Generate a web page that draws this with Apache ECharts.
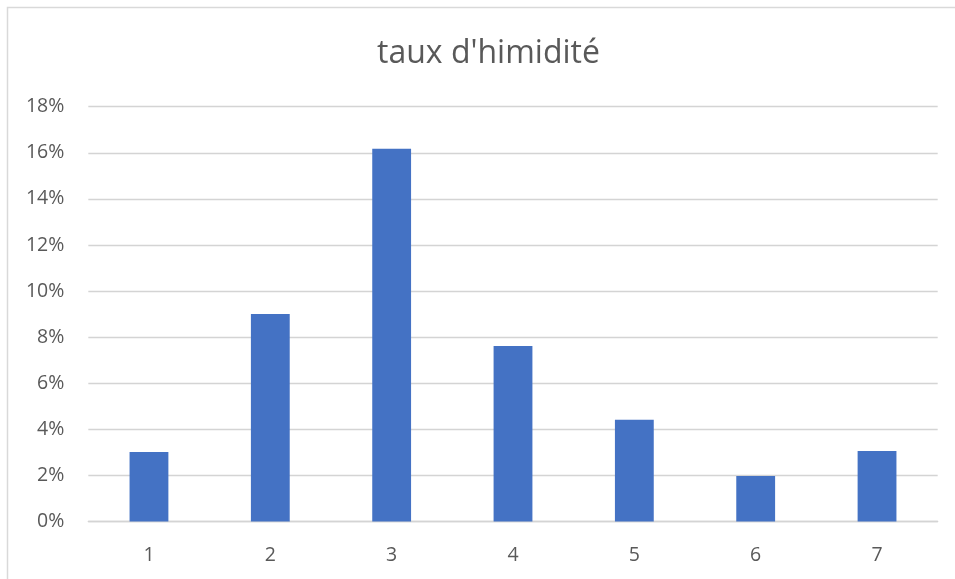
<!DOCTYPE html>
<html>
<head>
<meta charset="utf-8">
<script src="https://cdn.jsdelivr.net/npm/echarts@6/dist/echarts.min.js"></script>
<style>
html,body{margin:0;padding:0;background:#fff;}
#chart{width:955px;height:579px;}
</style>
</head>
<body>
<div id="chart"></div>
<script>
const titleText = "taux d'himidité";
const categories = ['1', '2', '3', '4', '5', '6', '7'];
const values = [0.0302, 0.090, 0.1617, 0.0762, 0.0441, 0.0197, 0.0306];
const yTicks = { min: 0, max: 0.18, interval: 0.02 };

const chart = echarts.init(document.getElementById('chart'));
const FONT = 'Open Sans';
chart.setOption({
  animation: false,
  backgroundColor: '#ffffff',
  graphic: [{
    type: 'rect',
    shape: { x: 7.5, y: 7.5, width: 1200, height: 1200 },
    style: { fill: 'none', stroke: '#d9d9d9', lineWidth: 1.5 },
    silent: true
  }],
  title: {
    text: titleText,
    left: 372,
    top: 33,
    textStyle: { fontFamily: FONT, fontSize: 32, fontWeight: 'normal', color: '#595959' }
  },
  grid: { left: 88.3, right: 17.3, top: 106.7, bottom: 57.5, containLabel: false },
  xAxis: {
    type: 'category',
    data: categories,
    axisLine: { show: true, lineStyle: { color: '#d4d4d4', width: 1.3 } },
    axisTick: { show: false },
    axisLabel: { fontFamily: FONT, fontSize: 19.5, color: '#595959', margin: 24 }
  },
  yAxis: {
    type: 'value',
    min: yTicks.min,
    max: yTicks.max,
    interval: yTicks.interval,
    axisLine: { show: false },
    axisTick: { show: false },
    splitLine: { lineStyle: { color: '#d4d4d4', width: 1.3 } },
    axisLabel: {
      fontFamily: FONT, fontSize: 19.5, color: '#595959', margin: 24,
      formatter: v => Math.round(v * 100) + '%'
    }
  },
  series: [{
    type: 'bar',
    data: values,
    barWidth: '32%',
    itemStyle: { color: '#4472c4' }
  }]
});
</script>
</body>
</html>
